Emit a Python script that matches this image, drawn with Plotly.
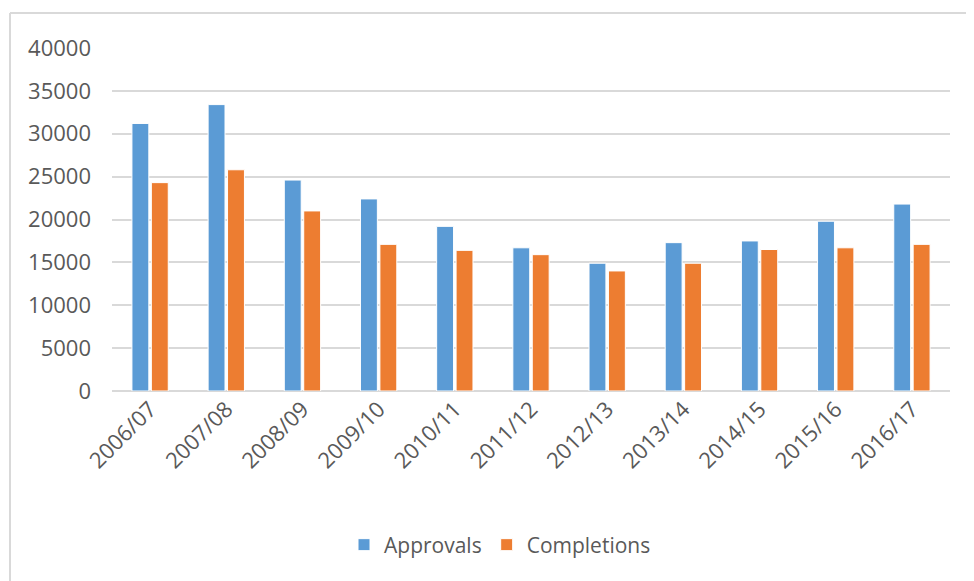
import plotly.graph_objects as go

categories = ["2006/07", "2007/08", "2008/09", "2009/10", "2010/11", "2011/12",
              "2012/13", "2013/14", "2014/15", "2015/16", "2016/17"]
approvals = [31200, 33400, 24600, 22400, 19200, 16700, 14900, 17300, 17500, 19800, 21800]
completions = [24300, 25800, 21000, 17100, 16400, 15900, 14000, 14900, 16500, 16700, 17100]
y_ticks = [0, 5000, 10000, 15000, 20000, 25000, 30000, 35000, 40000]
y_tick_labels = [str(v) for v in y_ticks]

FONT = "Open Sans"
TXT = "#595959"
GRID = "#D9D9D9"

fig = go.Figure()
fig.add_trace(go.Bar(name="Approvals", x=categories, y=approvals,
                     marker=dict(color="#5B9BD5", line=dict(color="white", width=1))))
fig.add_trace(go.Bar(name="Completions", x=categories, y=completions,
                     marker=dict(color="#ED7D31", line=dict(color="white", width=1))))

OFF = 8  # page body margin
W, H = 974 - OFF, 581 - OFF
L, T = 112 - OFF, 48 - OFF
pw, ph = 838, 343
R = W - L - pw
B = H - T - ph

fig.update_layout(
    width=W, height=H,
    margin=dict(l=L, r=R, t=T, b=B, autoexpand=False),
    paper_bgcolor="white", plot_bgcolor="white",
    barmode="group", bargap=0.49, bargroupgap=0.13,
    font=dict(family=FONT, color=TXT, size=22),
    xaxis=dict(tickangle=-45, showgrid=False, showline=False, ticks="",
               tickfont=dict(size=22, color=TXT, family=FONT)),
    yaxis=dict(range=[0, 40000], tickvals=y_ticks, ticktext=y_tick_labels,
               showgrid=True, gridcolor=GRID,
               gridwidth=2, zeroline=True, zerolinecolor=GRID, zerolinewidth=2,
               showline=False, ticks="", ticklabelstandoff=20,
               tickfont=dict(size=22, color=TXT, family=FONT)),
    legend=dict(orientation="h", x=(500 - 112) / pw, xanchor="center",
                y=(391 - 545) / ph, yanchor="middle",
                font=dict(size=21, color=TXT, family=FONT),
                itemwidth=30, traceorder="normal"),
    showlegend=True,
)

x0 = (10 - 112) / pw
y0 = 1 + (48 - 13) / ph
x1 = (980 - 112) / pw
y1 = -(581 + 5 - 391) / ph
fig.add_shape(type="line", xref="paper", yref="paper", x0=x0, x1=x0, y0=y0, y1=y1,
              line=dict(color=GRID, width=2))
fig.add_shape(type="line", xref="paper", yref="paper", x0=x0, x1=x1, y0=y0, y1=y0,
              line=dict(color=GRID, width=2))

fig.write_html("out.html")
